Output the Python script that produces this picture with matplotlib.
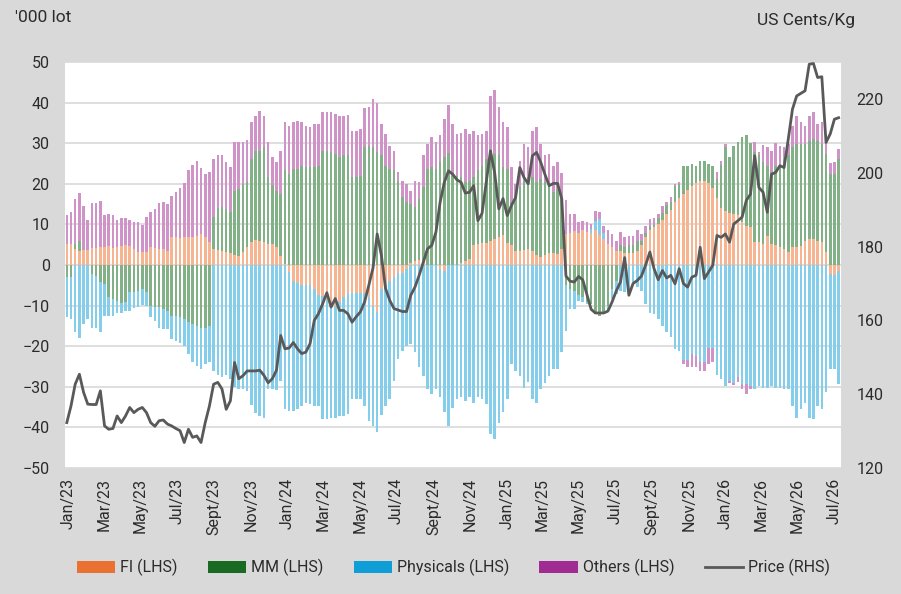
import numpy as np
import pandas as pd
import matplotlib
matplotlib.use("Agg")
import matplotlib.pyplot as plt
from matplotlib.patches import Patch
from matplotlib.lines import Line2D

plt.rcParams['font.family'] = ['Roboto', 'DejaVu Sans']

# weekly positioning, '000 lots (LHS)
fi = [5.2, 5.2, 4.0, 3.5, 3.7, 3.7, 4.2, 4.2, 4.4, 4.4, 4.6, 4.1, 4.4, 4.6, 4.9, 4.6, 3.9, 3.3, 3.1, 3.1, 4.4, 4.2, 3.9, 3.9,
      3.5, 6.8, 6.8, 6.7, 6.8, 7.0, 7.0, 7.2, 7.6, 6.8, 5.6,
      3.9, 3.7, 3.5, 3.1, 3.0, 2.5, 2.3, 3.1, 4.4, 5.6, 6.2, 6.0, 5.6, 5.2, 5.2, 4.4, 2.3, 0.3,
      -1.8, -4, -4.5, -5, -5, -5, -6, -7.5, -7.7, -8.5, -10, -10, -9, -8, -7, -7, -7, -7, -7, -8,
      -10, -11.5, -6, -5, -4, -3, -2, -2, -1, 0.5, 1, 1.2, 1.3, 0, 0, 0, -1, -1.5, 0, 0,
      0, 0.5, 1, 1.5, 5, 5.2, 5.3, 5.5, 5.8, 6.5, 6.8, 7.5, 5.5, 5, 3.5, 3.5, 3.6, 4, 3.5, 2.5, 2, 2.5,
      3, 3, 2.8, 4, 7.6, 8, 8.3, 8, 8.5, 8.2, 8, 8.5, 7.5, 6.3, 5.2, 4.4, 3.5, 3.5, 3, 3, 3, 3.5,
      5, 7, 8.5, 9.3, 10, 11, 12.5, 13.5, 15.5, 16.5, 17.5, 18.5, 19.5, 20.3, 20.8, 20.8, 20.3, 19,
      16.5, 14, 13.2, 12.8, 12.5, 12.2, 10.5, 9.7, 9.3,
      5.6, 5.6, 5.2, 7.2, 5.2, 4.9, 4.4, 3.9, 3.3, 4.4, 4.4, 4.8, 6, 6.4, 6.4, 6, 5.6, 3.1, -2.2, -2.5, -1.5]

mm = [-3, -3, 1.2, 2.3, 0, 0, -2.2, -2.6, -4.3, -4.7, -8, -8.4, -8.8, -9.4, -9, -6.7, -6.6, -6.3, -5.9, -6.7, -10, -10.4, -10.4, -10.8,
      -11.3, -12.5, -12.5, -12.9, -13.3, -14, -14.5, -15.1, -15.4, -15.6, -15,
      7.9, 10.3, 10.7, 10.7, 10.0, 15.8, 16.4, 16.9, 16.0, 20.4, 21.8, 22.2, 23.4, 16.4, 14.4, 13.9, 15.2, 23.0,
      22.4, 23.7, 23.7, 24.5, 24.1, 24.1, 24.1, 24.5, 28.2, 28.2, 27.8, 27.4, 26.5, 27, 27, 21.6, 21.6, 22, 29, 29.4,
      29, 27.8, 27, 24.5, 23.7, 23.3, 20.8, 16.7, 15.4, 14.5, 13.2, 15.1, 17.8, 23.7, 24.1, 23.7, 25.3, 26.5, 27.5, 22,
      22, 21.1, 19.4, 19.3, 16.6, 18.1, 19.2, 20.6, 22.8, 20.9, 20.2, 16.6, 18.2, 10.4, 13.6, 15.6, 17.2, 17.6, 18.1, 17.9, 19.2, 17.9,
      16.6, 14.9, 15.9, 12.3, -5, -6, -6.5, -7.5, -8, -9, -9.5, -12, -12.5, -11.5, -10, -6, -4, 1.5, 1.5, 2, 2, 2.5,
      1, 0.8, 1, 0.5, 1.5, 1.8, 2.3, 2, 4, 3.5, 7, 6, 5.4, 4, 4.7, 4.7, 4.6, 5.5,
      4.8, 10.6, 15.8, 13.8, 16.7, 18, 21, 22.2, 20.8,
      22.2, 21.4, 20.1, 17.3, 17.6, 19.6, 20.1, 22.2, 23.7, 24.6, 25.4, 25, 23.8, 24.2, 24.7, 24.6, 24.2, 24.3, 22.4, 22.4, 26.1]

phys = [-9.9, -10.3, -16.6, -18, -14.5, -13.3, -13.2, -13, -12.1, -7.8, -4.5, -4.1, -3, -2.3, -2.3, -4.6, -4.1, -4.1, -4, -3.3, -2.9, -3.3, -5, -5,
        -4.5, -5.7, -6.2, -6.2, -6.6, -7.9, -9.3, -9.7, -10.2, -8.8, -9,
        -26, -27, -27.5, -27, -28, -30, -30.5, -30.5, -31, -34.5, -36.5, -37.1, -37.6, -30.6, -30.5, -30.8, -28.5, -35.5,
        -34.1, -31.9, -31, -29.7, -28.9, -29.3, -28.7, -27.2, -30.3, -29.5, -27.6, -27.6, -28.1, -29.1, -29.7, -26, -26, -26, -27.7, -30.4,
        -29.6, -29.7, -31, -29.7, -29, -25.5, -21.2, -19.1, -18.9, -19.5, -21.5, -25, -27.3, -30.6, -31.8, -30.6, -31.6, -34.8, -39.6, -35.1,
        -33, -32.6, -33.4, -32.6, -33.9, -32.6, -33, -34.3, -41.7, -42.9, -38.8, -36.3, -33, -24.4, -26, -27.3, -30.2, -28.9, -33, -33.9, -30.6, -29,
        -27.3, -25.6, -25.6, -21.5, -11.2, -4.8, -4.3, -1.3, -1.2, -0.6, 0.8, 2.4, 3.8, 1.5, -1.6, -2.4, -3.1, -6.3, -6.7, -5.9, -4.3, -5.4,
        -6.5, -9.5, -11.7, -12.1, -13.3, -15, -16.6, -17.8, -20.7, -21.1, -23.5, -23.5, -22, -22.5, -24, -24, -20.5, -20.5,
        -27, -28, -29.7, -28.5, -29, -27.7, -29.3, -29.3, -29.7,
        -30.6, -29.7, -30.2, -30.2, -29.7, -30.2, -30.2, -30.6, -30.6, -34.7, -37.6, -35.5, -33.9, -37.6, -38, -34.7, -35.5, -31.4, -23.4, -23.1, -27.8]

others = [7.1, 7.9, 11.1, 11.9, 10.8, 7.5, 11, 11, 11.4, 7.8, 7.9, 8.1, 6.8, 6.9, 6.7, 6.6, 6.8, 7.2, 6.8, 8.7, 8.7, 9.6, 11.4, 11.5,
          11.5, 10.3, 11.3, 12.2, 13.3, 16.4, 17.7, 18.5, 16.2, 15.6, 17.2,
          14.2, 13.1, 12.9, 11.5, 11.1, 12.1, 11.5, 10.4, 10.5, 9.2, 8.6, 9.8, 7.8, 8.8, 6.9, 7.0, 10.7, 11.9,
          11.9, 11.5, 11.7, 10.8, 10.2, 9.8, 10.7, 10.3, 9.6, 9.4, 10, 9.8, 10.3, 9.8, 10, 11.3, 11.3, 11.4, 9.6, 9.5,
          11.9, 12.1, 7.8, 7.8, 5.7, 4.9, 2, 4.1, 4.6, 3.3, 6.6, 4.1, 7.9, 6.1, 7.4, 6.5, 6.7, 9.5, 11.9, 12.8,
          10.3, 10.9, 13, 11.5, 11.5, 8.6, 7.8, 7, 13, 15.6, 11.9, 11.1, 10.2, 8.7, 2.9, 6.6, 9, 7.4, 11.3, 13.5, 8.6, 6.6,
          7.8, 6.6, 6.6, 6.4, 8.5, 4.6, 4.3, 2.5, 2.3, 2.5, 1.3, 2.5, 1.8, 1.9, 3.3, 3.2, 2.5, 3.1, 2.3, 2.2, 2.2, 2.5,
          1.6, 1.7, 1.8, 1.7, 1, 1.7, 0.7, 1.2, 0.5, 0.5, -1, -1.5, -3, -2.5, -2, -2, -4, -3.5,
          1.5, 1, 0.7, -0.5, -0.5, -1.2, -1.3, -2.5, -0.9,
          2.4, 0.8, 4.3, 4.5, 5.4, 5.6, 4.9, 2.9, 2.8, 5.3, 7, 5.4, 4.5, 6.2, 6.7, 4.2, 5.4, 4.9, 2.7, 2.9, 2.5]

# price, US cents/kg (RHS)
price = [132.3, 136.8, 142.7, 145.4, 140.5, 137.3, 137.2, 137.2, 140.9, 131.4, 130.5, 130.7, 134.1, 132.3, 134.1, 136.4, 135, 135.9, 136.4, 135, 132.3, 131.3, 132.8, 133,
         131.9, 131.4, 130.7, 130.1, 126.9, 130.5, 128.3, 128.7, 126.9, 132.3, 136.8, 142.7, 143.2, 141.4, 135.9, 138.2, 148.6, 144.2, 145, 146.3, 146.3, 146.3, 146.5,
         145.1, 143.1, 144.2, 146.5, 155.9, 152.3, 152.5, 154, 152.3, 151, 151.4, 153.7, 160, 161.8, 164.5, 167.5, 163.6, 165.9, 162.7, 162.7, 161.8, 159.5,
         161, 162.3, 165, 169.5, 174.2, 183.4, 177.6, 168.6, 165.4, 163.2, 162.8, 162.4, 162.4, 166.8, 169, 172.2, 175.8, 179.4, 180.3, 183.9, 192, 197.4, 200.5, 199.6,
         198.1, 197.4, 194.5, 194.7, 196.5, 187, 189, 197.5, 205.9, 200, 190.2, 193, 188.4, 191.1, 193.3, 201.4, 198.7, 197, 204.6, 205.5, 202.8, 199.5,
         196.5, 197.1, 197.1, 192.9, 172, 170.6, 170.4, 171.9, 171, 167, 163, 162, 162, 162, 162.5, 165, 168, 170.4, 177, 166.8, 170, 170.8,
         172, 175, 178.5, 174, 171, 173.5, 171.5, 172.2, 169.9, 174, 170, 169, 171.7, 172.2, 179.8, 171.3, 173.1, 174.9, 183, 182.5, 183.4, 181.2, 186.1,
         187, 188, 192.5, 194.2, 204.6, 196, 194.7, 189.3, 199.6, 200.1, 201.9, 201.4, 209.1, 217.2, 220.8, 221.5, 222.2, 229.4, 229.6, 225.8, 226, 208.2, 210.5, 214.5, 214.9]

series_names = ['FI (LHS)', 'MM (LHS)', 'Physicals (LHS)', 'Others (LHS)']
month_names = {1: 'Jan', 3: 'Mar', 5: 'May', 7: 'Jul', 9: 'Sept', 11: 'Nov'}

dates = pd.date_range('2022-12-29', periods=len(price), freq='7D')

# legend colours and the washed-out look of the thin bars
legend_colors = ['#E97132', '#196B24', '#0F9ED5', '#A02B93']
bar_colors = ['#F7B491', '#82B187', '#84CDEB', '#D093C8']
txt = '#2B2B2B'

fig = plt.figure(figsize=(9.01, 5.94), dpi=100, facecolor='#D9D9D9')
ax = fig.add_axes([65 / 901, 1 - 468 / 594, 776 / 901, 406 / 594])
ax.set_facecolor('white')

pos_base = np.zeros(len(price))
neg_base = np.zeros(len(price))
for vals, col in zip([fi, mm, phys, others], bar_colors):
    v = np.array(vals, dtype=float)
    bottom = np.where(v >= 0, pos_base, neg_base)
    ax.bar(dates, v, bottom=bottom, width=4.3, color=col, linewidth=0, zorder=2)
    pos_base = pos_base + np.clip(v, 0, None)
    neg_base = neg_base + np.clip(v, None, 0)

ax.set_ylim(-50, 50)
ax.set_yticks(range(-50, 51, 10))
ax.set_axisbelow(True)
ax.yaxis.grid(True, color='#D9D9D9', linewidth=1.2)
ax.set_xlim(dates[0] - pd.Timedelta(days=3), dates[-1] + pd.Timedelta(days=4))

ticks = pd.date_range('2023-01-01', '2026-07-01', freq='2MS')
ax.set_xticks(ticks)
ax.set_xticklabels([f"{month_names[d.month]}/{d.strftime('%y')}" for d in ticks], rotation=90)

ax2 = ax.twinx()
ax2.plot(dates, price, color='#595959', linewidth=2, zorder=3)
ax2.set_ylim(120, 230)
ax2.set_yticks(range(120, 221, 20))

for a in (ax, ax2):
    for s in a.spines.values():
        s.set_visible(False)
    a.tick_params(length=0, labelsize=11.5, labelcolor=txt)
ax.tick_params(axis='y', pad=11)
ax.tick_params(axis='x', pad=7)
ax2.tick_params(axis='y', pad=11)

fig.text(15 / 901, 1 - 18 / 594, "'000 lot", ha='left', va='center', fontsize=12.5, color=txt)
fig.text(757 / 901, 1 - 20 / 594, 'US Cents/Kg', ha='left', va='center', fontsize=12.5, color=txt)

handles = [Patch(facecolor=c, edgecolor='none') for c in legend_colors]
handles.append(Line2D([0], [0], color='#595959', linewidth=2))
fig.legend(handles, series_names + ['Price (RHS)'], loc='center', bbox_to_anchor=(0.503, 0.044),
           ncol=5, frameon=False, fontsize=11.5, labelcolor=txt,
           handlelength=2.4, handleheight=0.7, handletextpad=0.3, columnspacing=1.9)

fig.savefig('out.png', dpi=100, facecolor=fig.get_facecolor())
